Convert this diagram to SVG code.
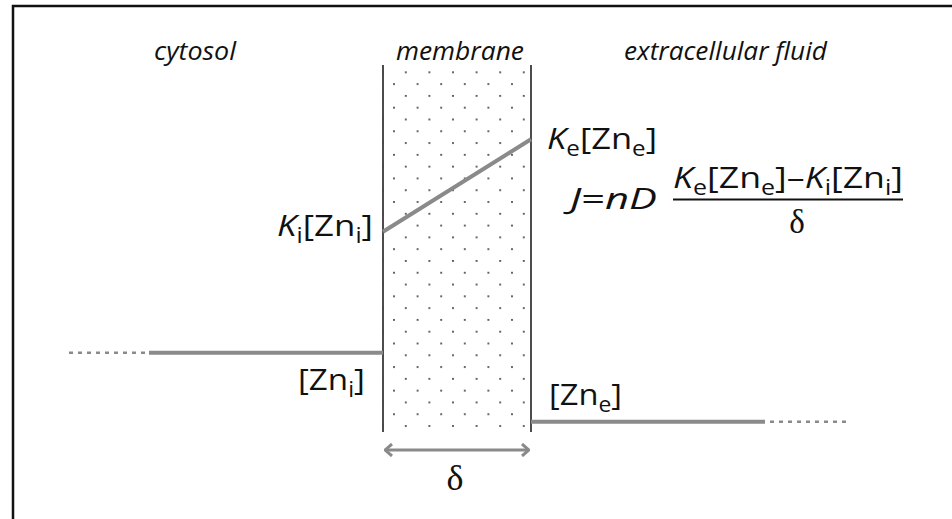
<svg xmlns="http://www.w3.org/2000/svg" width="952" height="519" viewBox="0 0 952 519">
<defs>
<style>
.lbl{font-family:"Open Sans","Liberation Sans",sans-serif;font-size:30px;fill:#111}
.reg{font-family:"Open Sans","Liberation Sans",sans-serif;font-size:25px;font-style:italic;fill:#111}
.it{font-style:italic}
.sub{font-size:21px}
.gl{stroke:#8a8a8a;stroke-width:4;fill:none}
.dl{stroke:#8a8a8a;stroke-width:2.5;stroke-dasharray:4 5;fill:none}
.mem{stroke:#111;stroke-width:1.5}
.greek{font-family:"Liberation Serif","DejaVu Serif",serif;fill:#111}
</style>
<pattern id="dots" patternUnits="userSpaceOnUse" x="388.1" y="66.45" width="23.6" height="23.58">
<circle cx="17.7" cy="5.85" r="0.9" fill="#111"/>
<circle cx="5.9" cy="17.64" r="0.9" fill="#111"/>
</pattern>
<marker id="chev" viewBox="0 0 10 14" refX="9" refY="7" markerWidth="10" markerHeight="14" markerUnits="userSpaceOnUse" orient="auto-start-reverse">
<path d="M2,1 L9,7 L2,13" fill="none" stroke="#8a8a8a" stroke-width="3"/>
</marker>
</defs>
<rect x="0" y="0" width="952" height="519" fill="#fff"/>
<rect x="13" y="6" width="960" height="540" fill="none" stroke="#111" stroke-width="2.5"/>

<g id="regions">
<text class="reg" x="154" y="60" textLength="82" lengthAdjust="spacingAndGlyphs">cytosol</text>
<text class="reg" x="396" y="60" textLength="128" lengthAdjust="spacingAndGlyphs">membrane</text>
<text class="reg" x="624" y="60" textLength="203" lengthAdjust="spacingAndGlyphs">extracellular fluid</text>
</g>

<g id="membrane">
<rect x="383" y="65" width="148" height="367" fill="url(#dots)"/>
<line class="mem" x1="383" y1="65" x2="383" y2="432"/>
<line class="mem" x1="531" y1="65" x2="531" y2="432"/>
</g>

<g id="connectors">
<line class="gl" x1="383" y1="231.7" x2="531" y2="139.3"/>
<line class="gl" x1="149" y1="352.7" x2="383" y2="352.7"/>
<line class="dl" x1="69" y1="352.7" x2="145" y2="352.7"/>
<line class="gl" x1="531" y1="421.7" x2="765" y2="421.7"/>
<line class="dl" x1="770" y1="421.7" x2="846" y2="421.7"/>
<line x1="385" y1="450" x2="529" y2="450" stroke="#8a8a8a" stroke-width="3" marker-start="url(#chev)" marker-end="url(#chev)"/>
</g>

<g id="label-ke">
<text class="lbl" x="547" y="149" textLength="110" lengthAdjust="spacingAndGlyphs"><tspan class="it">K</tspan><tspan class="sub" dy="7">e</tspan><tspan dy="-7">[Zn</tspan><tspan class="sub" dy="7">e</tspan><tspan dy="-7">]</tspan></text>
</g>

<g id="label-ki">
<text class="lbl" x="277" y="236" textLength="96" lengthAdjust="spacingAndGlyphs"><tspan class="it">K</tspan><tspan class="sub" dy="7">i</tspan><tspan dy="-7">[Zn</tspan><tspan class="sub" dy="7">i</tspan><tspan dy="-7">]</tspan></text>
</g>

<g id="label-zni">
<text class="lbl" x="298" y="390" textLength="67" lengthAdjust="spacingAndGlyphs">[Zn<tspan class="sub" dy="7">i</tspan><tspan dy="-7">]</tspan></text>
</g>

<g id="label-zne">
<text class="lbl" x="549" y="405" textLength="73" lengthAdjust="spacingAndGlyphs">[Zn<tspan class="sub" dy="7">e</tspan><tspan dy="-7">]</tspan></text>
</g>

<g id="formula">
<text class="lbl" x="570" y="209" textLength="87" lengthAdjust="spacingAndGlyphs"><tspan class="it">J</tspan>=<tspan class="it">nD</tspan></text>
<text class="lbl" x="673" y="188" textLength="230" lengthAdjust="spacingAndGlyphs"><tspan class="it">K</tspan><tspan class="sub" dy="7">e</tspan><tspan dy="-7">[Zn</tspan><tspan class="sub" dy="7">e</tspan><tspan dy="-7">]–</tspan><tspan class="it">K</tspan><tspan class="sub" dy="7">i</tspan><tspan dy="-7">[Zn</tspan><tspan class="sub" dy="7">i</tspan><tspan dy="-7">]</tspan></text>
<line x1="673" y1="199.5" x2="903" y2="199.5" stroke="#111" stroke-width="2"/>
<text class="greek" x="797" y="233" font-size="33" text-anchor="middle">δ</text>
</g>

<g id="delta">
<text class="greek" x="455" y="490" font-size="36" text-anchor="middle">δ</text>
</g>
</svg>
